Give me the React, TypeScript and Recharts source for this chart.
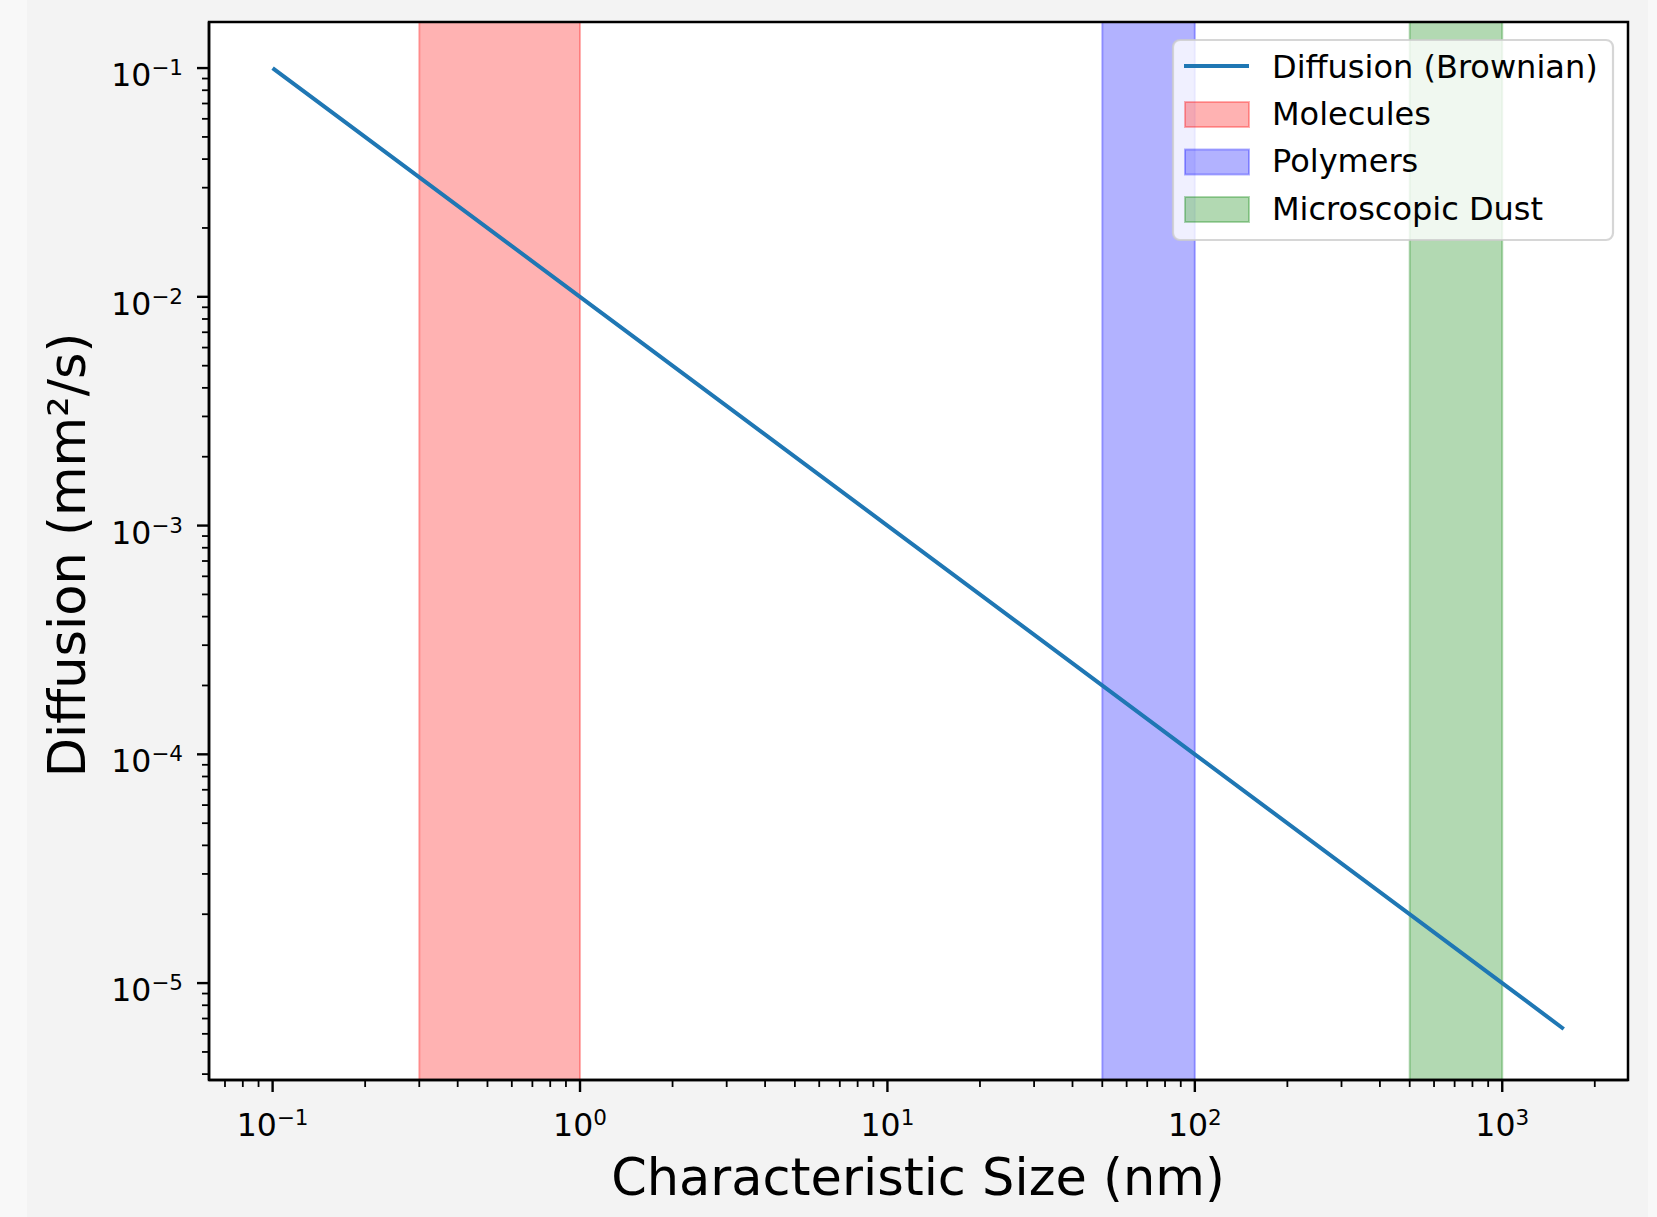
import React from 'react';
import { ComposedChart, Line, XAxis, YAxis, ReferenceArea, CartesianGrid, Legend } from 'recharts';

// ---- data ----
const sizes = [0.1, 1, 10, 100, 1000, 1585];
const diffusion = [0.1, 0.01, 0.001, 0.0001, 0.00001, 0.0000063];

const lineLabel = 'Diffusion (Brownian)';
const bandLabels = ['Molecules', 'Polymers', 'Microscopic Dust'];
const bandStarts = [0.3, 50, 500];
const bandEnds = [1, 100, 1000];
const bandColors = ['red', 'blue', 'green'];

const xTitle = 'Characteristic Size (nm)';
const yTitle = 'Diffusion (mm²/s)';

const xDomain = [0.0621, 2565];
const yDomain = [0.00000377, 0.159];

const xMajorTicks = [0.1, 1, 10, 100, 1000];
const xMajorExponents = ['−1', '0', '1', '2', '3'];
const xMinorTicks = [
  0.07, 0.08, 0.09,
  0.2, 0.3, 0.4, 0.5, 0.6, 0.7, 0.8, 0.9,
  2, 3, 4, 5, 6, 7, 8, 9,
  20, 30, 40, 50, 60, 70, 80, 90,
  200, 300, 400, 500, 600, 700, 800, 900,
  2000,
];
const yMajorTicks = [0.1, 0.01, 0.001, 0.0001, 0.00001];
const yMajorExponents = ['−1', '−2', '−3', '−4', '−5'];
const yMinorTicks = [
  0.02, 0.03, 0.04, 0.05, 0.06, 0.07, 0.08, 0.09,
  0.002, 0.003, 0.004, 0.005, 0.006, 0.007, 0.008, 0.009,
  0.0002, 0.0003, 0.0004, 0.0005, 0.0006, 0.0007, 0.0008, 0.0009,
  0.00002, 0.00003, 0.00004, 0.00005, 0.00006, 0.00007, 0.00008, 0.00009,
  0.000004, 0.000005, 0.000006, 0.000007, 0.000008, 0.000009,
];

const data = sizes.map((s, i) => ({ size: s, diffusion: diffusion[i] }));

const FONT = '"DejaVu Sans", sans-serif';
const TICK_FS = 31.5;
const SUP_FS = 21.5;
const LEGEND_FS = 32;
const TITLE_FS = 51;

const XTick = (props: any) => {
  const { x, y, payload } = props;
  const i = xMajorTicks.indexOf(payload.value);
  const major = i >= 0;
  return (
    <g>
      <line x1={x} x2={x} y1={y} y2={y + (major ? 12 : 7)} stroke="#000" strokeWidth={major ? 2.4 : 1.8} />
      {major && (
        <text x={x} y={y + 56} textAnchor="middle" fontFamily={FONT} fontSize={TICK_FS} fill="#000">
          <tspan>10</tspan>
          <tspan dy={-11} fontSize={SUP_FS}>{xMajorExponents[i]}</tspan>
        </text>
      )}
    </g>
  );
};

const YTick = (props: any) => {
  const { x, y, payload } = props;
  const i = yMajorTicks.indexOf(payload.value);
  const major = i >= 0;
  return (
    <g>
      <line x1={x - (major ? 12 : 7)} x2={x} y1={y} y2={y} stroke="#000" strokeWidth={major ? 2.4 : 1.8} />
      {major && (
        <text x={x - 26} y={y + 18} textAnchor="end" fontFamily={FONT} fontSize={TICK_FS} fill="#000">
          <tspan>10</tspan>
          <tspan dy={-11} fontSize={SUP_FS}>{yMajorExponents[i]}</tspan>
        </text>
      )}
    </g>
  );
};

const renderLegend = () => (
  <svg width={444} height={204} style={{ display: 'block' }}>
    <rect x={2} y={2} width={440} height={200} rx={7} ry={7} fill="#ffffff" fillOpacity={0.8} stroke="#cccccc" strokeOpacity={0.8} strokeWidth={2.2} />
    <line x1={13} x2={78} y1={28} y2={28} stroke="#1f77b4" strokeWidth={4} />
    <text x={101} y={40} fontFamily={FONT} fontSize={LEGEND_FS} fill="#000">{lineLabel}</text>
    {bandLabels.map((lab, i) => (
      <g key={lab}>
        <rect x={14} y={64 + i * 47.5} width={64} height={25} fill={bandColors[i]} fillOpacity={0.3} stroke={bandColors[i]} strokeOpacity={0.3} strokeWidth={2} />
        <text x={101} y={86.5 + i * 47.5} fontFamily={FONT} fontSize={LEGEND_FS} fill="#000">{lab}</text>
      </g>
    ))}
  </svg>
);

export default function App() {
  return (
    <div style={{ position: 'absolute', left: 0, top: 0, width: 1657, height: 1217, background: '#f8f8f8', overflow: 'hidden' }}>
      <div style={{ position: 'absolute', left: 27, top: 0, width: 1621, height: 1217, background: '#f3f3f3' }} />
      <div style={{ position: 'absolute', left: 0, top: 0 }}>
        <ComposedChart
          width={1657}
          height={1217}
          data={data}
          margin={{ top: 22, right: 29, bottom: 77, left: 129 }}
        >
          <CartesianGrid horizontal={false} vertical={false} fill="#ffffff" stroke="none" />
          <XAxis
            dataKey="size"
            type="number"
            scale="log"
            domain={xDomain}
            allowDataOverflow
            ticks={[...xMajorTicks, ...xMinorTicks]}
            interval={0}
            tick={<XTick />}
            tickLine={false}
            tickSize={0}
            tickMargin={0}
            height={60}
            axisLine={{ stroke: '#000', strokeWidth: 2.5 }}
          />
          <YAxis
            dataKey="diffusion"
            type="number"
            scale="log"
            domain={yDomain}
            allowDataOverflow
            ticks={[...yMajorTicks, ...yMinorTicks]}
            interval={0}
            tick={<YTick />}
            tickLine={false}
            tickSize={0}
            tickMargin={0}
            width={80}
            axisLine={{ stroke: '#000', strokeWidth: 2.5 }}
          />
          {bandLabels.map((lab, i) => (
            <ReferenceArea
              key={lab}
              x1={bandStarts[i]}
              x2={bandEnds[i]}
              fill={bandColors[i]}
              fillOpacity={0.3}
              stroke={bandColors[i]}
              strokeOpacity={0.3}
              strokeWidth={2}
            />
          ))}
          <Line
            type="linear"
            dataKey="diffusion"
            name={lineLabel}
            stroke="#1f77b4"
            strokeWidth={4}
            dot={false}
            activeDot={false}
            isAnimationActive={false}
          />
          <ReferenceArea x1={xDomain[0]} x2={xDomain[1]} fill="none" stroke="#000" strokeWidth={2.5} />
          <Legend
            layout="vertical"
            align="center"
            verticalAlign="middle"
            content={renderLegend}
            wrapperStyle={{ position: 'absolute', left: 1171, top: 38, width: 444, height: 204 }}
          />
        </ComposedChart>
      </div>
      <svg width={1657} height={1217} style={{ position: 'absolute', left: 0, top: 0, pointerEvents: 'none' }}>
        <text x={918} y={1195} textAnchor="middle" fontFamily={FONT} fontSize={TITLE_FS} fill="#000">{xTitle}</text>
        <text x={85} y={555} textAnchor="middle" fontFamily={FONT} fontSize={TITLE_FS} fill="#000" transform="rotate(-90 85 555)">{yTitle}</text>
      </svg>
    </div>
  );
}
